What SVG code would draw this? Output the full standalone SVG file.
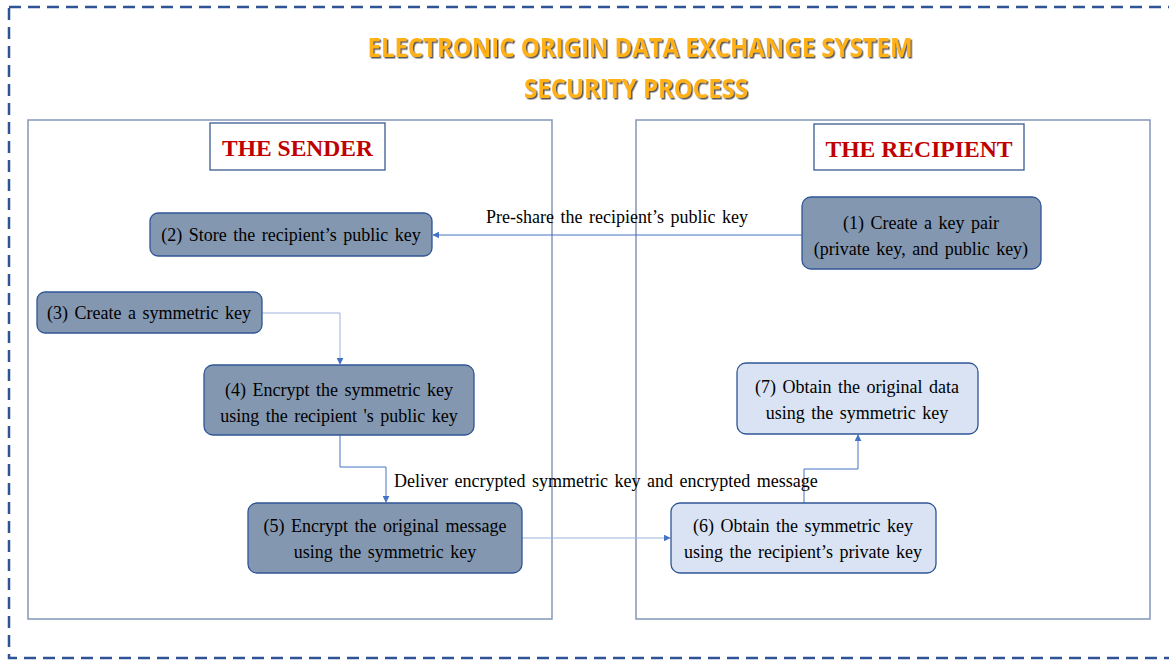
<svg xmlns="http://www.w3.org/2000/svg" width="1169" height="660" viewBox="0 0 1169 660">
<defs>
<marker id="ah" viewBox="0 0 10 10" refX="9" refY="5" markerWidth="7" markerHeight="7" orient="auto" markerUnits="userSpaceOnUse">
<path d="M0,0 L10,5 L0,10 z" fill="#4472C4"/>
</marker>
<filter id="sh" x="-5%" y="-20%" width="110%" height="140%">
<feDropShadow dx="1.5" dy="1.5" stdDeviation="0.6" flood-color="#444" flood-opacity="0.9"/>
</filter>
</defs>
<style>
.title{font-family:"Open Sans","Liberation Sans",sans-serif;font-weight:bold;font-size:26px;fill:#FFB119;text-anchor:middle}
.panel{fill:#fff;stroke:#8496B8;stroke-width:1.5}
.hdr{fill:#fff;stroke:#3B5A93;stroke-width:1.3}
.hdrt{font-family:"Liberation Serif",serif;font-weight:bold;font-size:24px;fill:#C00000;text-anchor:middle}
.dark{fill:#8497B0;stroke:#2F5597;stroke-width:1.3}
.light{fill:#DAE3F3;stroke:#2F5597;stroke-width:1.3}
.t{font-family:"Liberation Serif",serif;font-size:18px;fill:#000;text-anchor:middle;word-spacing:2px}
.lbl{font-family:"Liberation Serif",serif;font-size:18px;fill:#000;word-spacing:2px}
.c{fill:none;stroke:#4472C4;stroke-width:1;marker-end:url(#ah)}
.cl{fill:none;stroke:#9DB3DC;stroke-width:1;marker-end:url(#ah)}
</style>
<rect x="9" y="7" width="1170" height="651" fill="none" stroke="#2F5496" stroke-width="2.5" stroke-dasharray="12 7"/>
<text class="title" x="640" y="57" filter="url(#sh)" textLength="545" lengthAdjust="spacingAndGlyphs">ELECTRONIC ORIGIN DATA EXCHANGE SYSTEM</text>
<text class="title" x="636" y="98" filter="url(#sh)" textLength="224" lengthAdjust="spacingAndGlyphs">SECURITY PROCESS</text>
<g id="sender-panel">
<rect class="panel" x="28" y="120" width="524" height="499"/>
<rect class="hdr" x="210" y="123" width="175" height="47"/>
<text class="hdrt" x="297.5" y="156" textLength="151" lengthAdjust="spacingAndGlyphs">THE SENDER</text>
</g>
<g id="recipient-panel">
<rect class="panel" x="636" y="120" width="514" height="499"/>
<rect class="hdr" x="814" y="124" width="210" height="46"/>
<text class="hdrt" x="919" y="157" textLength="187" lengthAdjust="spacingAndGlyphs">THE RECIPIENT</text>
</g>
<g id="connectors">
<path class="c" d="M802,235 H433"/>
<path class="cl" d="M262,313 H340 V364"/>
<path class="c" d="M340,435 V467 H386 V502"/>
<path class="cl" d="M522,538 H670"/>
<path class="c" d="M804,503 V469 H858 V435"/>
<text class="lbl" x="486" y="223">Pre-share the recipient’s public key</text>
<text class="lbl" x="394" y="487">Deliver encrypted symmetric key and encrypted message</text>
</g>
<g id="n1">
<rect class="dark" x="802" y="197" width="239" height="72" rx="9"/>
<text class="t" x="921" y="229">(1) Create a key pair</text>
<text class="t" x="921" y="255">(private key, and public key)</text>
</g>
<g id="n2">
<rect class="dark" x="150" y="213" width="282" height="43" rx="8"/>
<text class="t" x="291" y="241">(2) Store the recipient’s public key</text>
</g>
<g id="n3">
<rect class="dark" x="37" y="292" width="225" height="41" rx="8"/>
<text class="t" x="149" y="319">(3) Create a symmetric key</text>
</g>
<g id="n4">
<rect class="dark" x="204" y="365" width="270" height="70" rx="9"/>
<text class="t" x="339" y="396">(4) Encrypt the symmetric key</text>
<text class="t" x="339" y="422">using the recipient 's public key</text>
</g>
<g id="n5">
<rect class="dark" x="248" y="503" width="274" height="70" rx="9"/>
<text class="t" x="385" y="532">(5) Encrypt the original message</text>
<text class="t" x="385" y="558">using the symmetric key</text>
</g>
<g id="n6">
<rect class="light" x="671" y="503" width="265" height="70" rx="9"/>
<text class="t" x="803" y="532">(6) Obtain the symmetric key</text>
<text class="t" x="803" y="558">using the recipient’s private key</text>
</g>
<g id="n7">
<rect class="light" x="737" y="363" width="241" height="71" rx="9"/>
<text class="t" x="857" y="393">(7) Obtain the original data</text>
<text class="t" x="857" y="419">using the symmetric key</text>
</g>
</svg>
